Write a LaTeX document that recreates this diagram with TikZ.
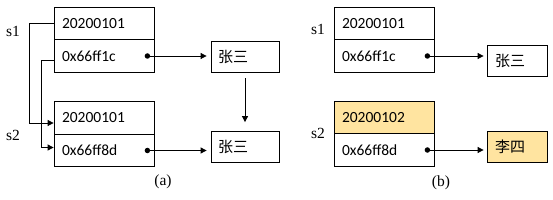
\documentclass[tikz,border=0pt]{standalone}
\usepackage{fontspec}
\usepackage{tikz}
\usetikzlibrary{positioning,arrows.meta}
\setmainfont{Liberation Serif}
\newfontfamily\cellfont{Carlito}
\newfontfamily\cjk{Noto Sans CJK SC}
\definecolor{hlyel}{RGB}{255,228,160}

\begin{document}
\begin{tikzpicture}[
  x=1pt,y=-1pt,line width=0.8pt,
  cell/.style={draw,minimum width=100pt,minimum height=32.5pt,inner xsep=8pt,
               inner ysep=0pt,text width=84pt,align=left,
               font=\cellfont\fontsize{15.5}{18}\selectfont},
  hl/.style={fill=hlyel},
  obj/.style={draw,minimum height=31pt,inner xsep=7pt,inner ysep=0pt,
              text width=54pt,align=left,font=\cjk\fontsize{15}{18}\selectfont},
  lbl/.style={font=\fontsize{15.5}{18}\selectfont,inner sep=0pt},
  ptr/.style={-{Triangle[length=6pt,width=6pt]}},
  dot/.style={circle,fill,inner sep=0pt,minimum size=5.5pt}
]
\useasboundingbox (0,0) rectangle (553,200);
% (a) two student records
\node[cell] (a1)  at (104,23.5)  {20200101};
\node[cell] (a1p) at (104,56)    {0x66ff1c};
\node[cell] (a2)  at (104,118)   {20200101};
\node[cell] (a2p) at (104,150.5) {0x66ff8d};
\node[obj]  (za)  at (245,56.5)  {张三};
\node[obj]  (zb)  at (245,147)   {张三};
\node[lbl]  (s1a) at (13,31)     {s1};
\node[lbl]  (s2a) at (13,135)    {s2};
\node[lbl]  (capa) at (163,182)  {(a)};
% references
\draw[ptr] (a1.west) -- ++(-24,0) |- ([yshift=-5pt]a2.west);
\draw[ptr] ([yshift=-4pt]a1p.west) -- ++(-12,0) |- ([yshift=3pt]a2p.west);
\node[dot] (da1) at ([xshift=-7pt]a1p.east) {};
\node[dot] (da2) at ([xshift=-7pt]a2p.east) {};
\draw[ptr,shorten >=4pt] (da1.center) -- (da1 -| za.west);
\draw[ptr,shorten >=4pt] (da2.center) -- (da2 -| zb.west);
\draw[ptr,shorten <=6pt,shorten >=9pt] (za) -- (zb);
% (b) after the change
\node[cell]    (b1)  at (384,23.5) {20200101};
\node[cell]    (b1p) at (384,56)   {0x66ff1c};
\node[cell,hl] (b2)  at (384,117.5) {20200102};
\node[cell]    (b2p) at (384,150)  {0x66ff8d};
\node[obj,text width=44pt,inner xsep=8pt]    (zc) at (517,60.5) {张三};
\node[obj,hl,text width=44pt,inner xsep=8pt] (ld) at (517,147)  {李四};
\node[lbl] (s1b)  at (318,29)  {s1};
\node[lbl] (s2b)  at (318,133) {s2};
\node[lbl] (capb) at (441,183) {(b)};
\node[dot] (db1) at ([xshift=-7pt]b1p.east) {};
\node[dot] (db2) at ([xshift=-7pt]b2p.east) {};
\draw[ptr,shorten >=3pt] (db1.center) -- (db1 -| zc.west);
\draw[ptr,shorten >=3pt] (db2.center) -- (db2 -| ld.west);
\end{tikzpicture}
\end{document}
